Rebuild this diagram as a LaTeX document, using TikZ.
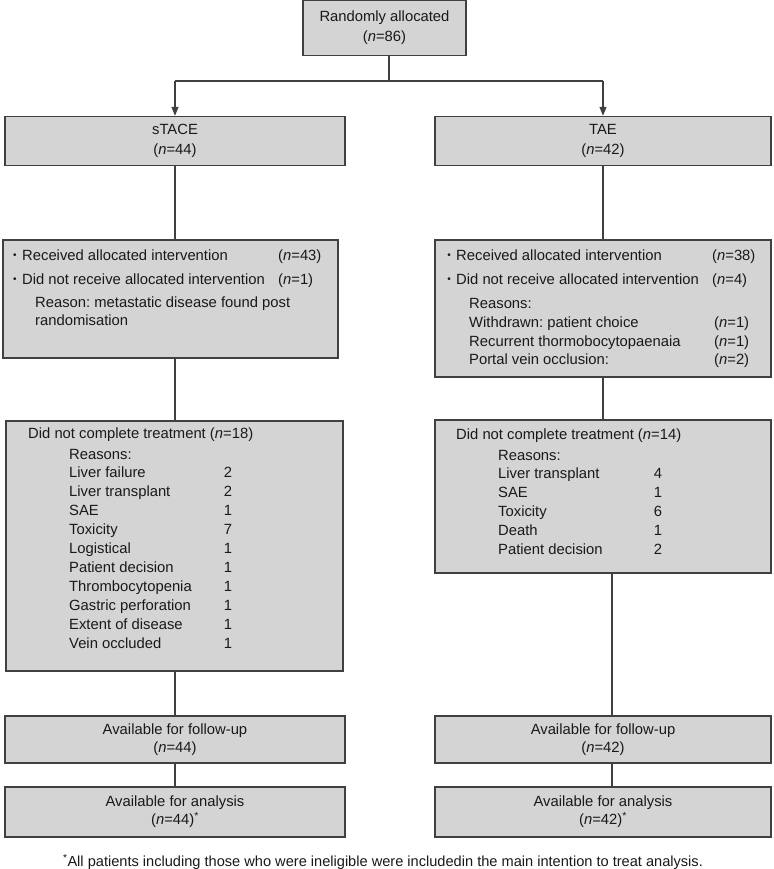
\documentclass[tikz,border=0pt]{standalone}
\usepackage{fontspec}
\setmainfont{Liberation Sans}
\usetikzlibrary{arrows.meta}
\frenchspacing
\begin{document}
\begin{tikzpicture}[x=1pt,y=-1pt,
  box/.style={draw=black!75, fill=black!17, line width=1.4pt, rectangle, inner sep=0pt, align=center, font=\fontsize{14.8}{20}\selectfont, text=black!90},
  lowbox/.style={box, font=\fontsize{14.8}{18}\selectfont},
  txt/.style={anchor=base west, inner sep=0pt, font=\fontsize{14.8}{18}\selectfont, text=black!90},
  num/.style={anchor=base, inner sep=0pt, font=\fontsize{14.8}{18}\selectfont, text=black!90},
  bul/.style={anchor=base, inner sep=0pt, font=\fontsize{10}{10}\selectfont, text=black!90},
  conn/.style={draw=black!75, line width=1.1pt},
  arr/.style={conn, -{Triangle[length=9pt,width=7pt]}}
]
\useasboundingbox (0,0) rectangle (773,869);

% boxes
\node[box, minimum width=163pt, minimum height=55pt] (top) at (384.5,28) {Randomly allocated\\(\textit{n}=86)};
\node[box, minimum width=340pt, minimum height=49pt] (stace) at (175,141) {sTACE\\(\textit{n}=44)};
\node[box, minimum width=336pt, minimum height=49pt] (tae) at (603,141) {TAE\\(\textit{n}=42)};
\node[box, minimum width=335pt, minimum height=118pt] (l2) at (170.5,299) {};
\node[box, minimum width=336pt, minimum height=137pt] (r2) at (603,308.5) {};
\node[box, minimum width=337pt, minimum height=250pt] (l3) at (174.5,546) {};
\node[box, minimum width=336pt, minimum height=153pt] (r3) at (603,496.5) {};
\node[lowbox, minimum width=340pt, minimum height=47pt] (lf) at (175,739.5) {Available for follow-up\\(\textit{n}=44)};
\node[lowbox, minimum width=336pt, minimum height=47pt] (rf) at (603,739.5) {Available for follow-up\\(\textit{n}=42)};
\node[lowbox, minimum width=340pt, minimum height=50pt] (la) at (175,812) {Available for analysis\\(\textit{n}=44)\textsuperscript{*}};
\node[lowbox, minimum width=336pt, minimum height=50pt] (ra) at (603,812) {Available for analysis\\(\textit{n}=42)\textsuperscript{*}};

% left box 2 text
\node[bul] (lb1) at (15,258) {\textbullet};
\node[txt] (l2a) at (22,260) {Received allocated intervention};
\node[txt] (l2an) at (278,260) {(\textit{n}=43)};
\node[bul] (lb2) at (15,282) {\textbullet};
\node[txt] (l2b) at (22,284) {Did not receive allocated intervention};
\node[txt] (l2bn) at (278,284) {(\textit{n}=1)};
\node[txt] (l2c) at (35,307) {Reason: metastatic disease found post};
\node[txt] (l2d) at (35,325) {randomisation};

% right box 2 text
\node[bul] (rb1) at (449,258) {\textbullet};
\node[txt] (r2a) at (456,260) {Received allocated intervention};
\node[txt] (r2an) at (712,260) {(\textit{n}=38)};
\node[bul] (rb2) at (449,282) {\textbullet};
\node[txt] (r2b) at (456,284) {Did not receive allocated intervention};
\node[txt] (r2bn) at (712,284) {(\textit{n}=4)};
\node[txt] (r2c) at (469,308) {Reasons:};
\node[txt] (r2d) at (469,327) {Withdrawn: patient choice};
\node[txt] (r2dn) at (714,327) {(\textit{n}=1)};
\node[txt] (r2e) at (469,346) {Recurrent thormobocytopaenaia};
\node[txt] (r2en) at (714,346) {(\textit{n}=1)};
\node[txt] (r2f) at (469,364) {Portal vein occlusion:};
\node[txt] (r2fn) at (714,364) {(\textit{n}=2)};

% left box 3 text
\node[txt] (l3h) at (28,438) {Did not complete treatment (\textit{n}=18)};
\node[txt] (l3r) at (69,459) {Reasons:};
\foreach \lab/\val [count=\i] in {Liver failure/2, Liver transplant/2, SAE/1, Toxicity/7, Logistical/1, Patient decision/1, Thrombocytopenia/1, Gastric perforation/1, Extent of disease/1, Vein occluded/1}{
  \node[txt] (l3t\i) at (69,{477+19*(\i-1)}) {\lab};
  \node[num] (l3v\i) at (228,{477+19*(\i-1)}) {\val};
}

% right box 3 text
\node[txt] (r3h) at (456,439) {Did not complete treatment (\textit{n}=14)};
\node[txt] (r3r) at (498,460) {Reasons:};
\foreach \lab/\val [count=\i] in {Liver transplant/4, SAE/1, Toxicity/6, Death/1, Patient decision/2}{
  \node[txt] (r3t\i) at (498,{478+19*(\i-1)}) {\lab};
  \node[num] (r3v\i) at (658,{478+19*(\i-1)}) {\val};
}

% footnote
\node[inner sep=0pt, font=\fontsize{14.6}{16}\selectfont, text=black!90] (foot) at (383,862) {\textsuperscript{*}All patients including those who were ineligible were includedin the main intention to treat analysis.};

% connectors
\coordinate (split) at (389,81);
\coordinate (hl) at (175,81);
\coordinate (hr) at (603,81);
\coordinate (rx) at (612,0);
\draw[conn] ([xshift=4.5pt]top.south) -- (split);
\draw[conn] (hl) -- (hr);
\draw[arr] (hl) -- (stace.north);
\draw[arr] (hr) -- (tae.north);
\draw[conn] (stace.south) -- (stace.south |- l2.north);
\draw[conn] (tae.south) -- (tae.south |- r2.north);
\draw[conn] (stace.south |- l2.south) -- (stace.south |- l3.north);
\draw[conn] (tae.south |- r2.south) -- (tae.south |- r3.north);
\draw[conn] (stace.south |- l3.south) -- (lf.north);
\draw[conn] (lf.south) -- (la.north);
\draw[conn] (rx |- r3.south) -- (rx |- rf.north);
\draw[conn] (rx |- rf.south) -- (rx |- ra.north);
\end{tikzpicture}
\end{document}
